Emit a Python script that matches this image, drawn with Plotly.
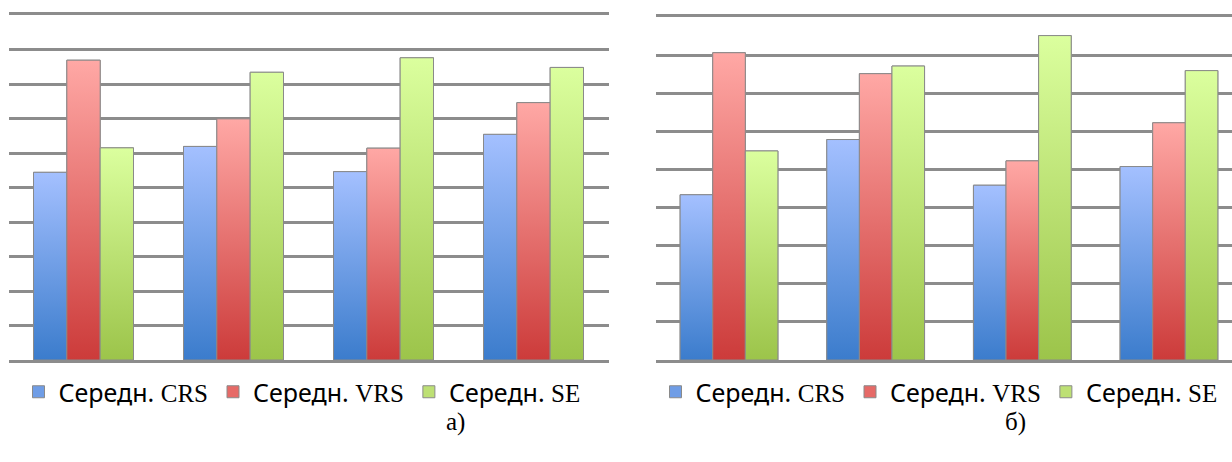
import plotly.graph_objects as go

# Efficiency averages per group, panel (а) and panel (б)
groups = [1, 2, 3, 4]
series_names = ["CRS", "VRS", "SE"]

crs_a = [0.544, 0.619, 0.546, 0.654]
vrs_a = [0.869, 0.699, 0.614, 0.746]
se_a = [0.615, 0.834, 0.876, 0.848]

crs_b = [0.434, 0.579, 0.459, 0.508]
vrs_b = [0.807, 0.752, 0.523, 0.623]
se_b = [0.549, 0.772, 0.852, 0.760]

panel_labels = ["а)", "б)"]

# bottom (dark) -> top (light) gradient colours per series
grad = {
    "CRS": ("#3b7ccc", "#a4c0ff"),
    "VRS": ("#cc3b3a", "#ffa8a5"),
    "SE": ("#9cc44a", "#dbff9e"),
}
mid = {"CRS": "#6f9de6", "VRS": "#e66a67", "SE": "#bde074"}
outline = "#8a8a8a"
grid = "#8c8c8c"

BAR_W = 2 / 9  # bargap 1/3 shared by 3 bars
offsets = [-BAR_W, 0.0, BAR_W]

fig = go.Figure()

panels = [
    dict(data=[crs_a, vrs_a, se_a], xa="x", ya="y", legend="legend"),
    dict(data=[crs_b, vrs_b, se_b], xa="x2", ya="y2", legend="legend2"),
]

for p in panels:
    for j, (name, vals) in enumerate(zip(series_names, p["data"])):
        xs = [g - 1 for g in groups]
        # base bars (legend entries + outline)
        fig.add_trace(go.Bar(
            x=xs, y=vals, name=f"Середн. <span style='font-family:Liberation Serif'>{name}</span>",
            xaxis=p["xa"], yaxis=p["ya"], legend=p["legend"],
            width=BAR_W, offset=offsets[j] - BAR_W / 2,
            marker=dict(color=mid[name], line=dict(color=outline, width=1)),
            hoverinfo="skip",
        ))
        # gradient overlay for each bar
        lo, hi = grad[name]
        for xi, v in zip(xs, vals):
            x0 = xi + offsets[j] - BAR_W / 2
            x1 = x0 + BAR_W
            fig.add_trace(go.Scatter(
                x=[x0, x0, x1, x1, x0], y=[0, v, v, 0, 0],
                xaxis=p["xa"], yaxis=p["ya"],
                mode="lines", fill="toself",
                fillgradient=dict(type="vertical", colorscale=[[0, lo], [1, hi]],
                                  start=0, stop=v),
                line=dict(color=outline, width=1),
                showlegend=False, hoverinfo="skip",
            ))

W, H = 1232, 462
axis_common = dict(showticklabels=False, ticks="", zeroline=False)
# x-axis line mirrored top and bottom gives the baseline and the top grid line
xline = dict(showline=True, mirror=True, linecolor=grid, linewidth=2.5)
fig.update_layout(
    width=W, height=H,
    margin=dict(l=0, r=0, t=0, b=0),
    paper_bgcolor="white", plot_bgcolor="white",
    barmode="overlay",
    showlegend=True,
    font=dict(family="Noto Sans", color="#000000"),
    xaxis=dict(domain=[8.5 / W, 608.5 / W], range=[-0.5, 3.5], showgrid=False,
               **axis_common, **xline),
    yaxis=dict(domain=[(H - 360) / H, (H - 15) / H], range=[0, 1.0], dtick=0.1,
               showgrid=True, gridcolor=grid, gridwidth=2.5, showline=False, **axis_common),
    xaxis2=dict(domain=[655.7 / W, 1.0], range=[-0.5, 3.5 - 10.3 / 146.7], showgrid=False,
                anchor="y2", **axis_common, **xline),
    yaxis2=dict(domain=[(H - 360) / H, (H - 17.3) / H], range=[0, 0.9], dtick=0.1,
                showgrid=True, gridcolor=grid, gridwidth=2.5, showline=False, anchor="x2",
                **axis_common),
    legend=dict(orientation="h", x=302 / W, xanchor="center", y=1 - 392 / H, yanchor="middle",
                font=dict(size=25, family="Noto Sans"), bgcolor="rgba(0,0,0,0)"),
    legend2=dict(orientation="h", x=939 / W, xanchor="center", y=1 - 392 / H, yanchor="middle",
                 font=dict(size=25, family="Noto Sans"), bgcolor="rgba(0,0,0,0)"),
)

for label, xc in zip(panel_labels, [455, 1015]):
    fig.add_annotation(text=label, x=xc / W, y=1 - 422 / H, xref="paper", yref="paper",
                       showarrow=False, font=dict(size=25, family="Liberation Serif"),
                       xanchor="center", yanchor="middle")

fig.write_html("out.html")
